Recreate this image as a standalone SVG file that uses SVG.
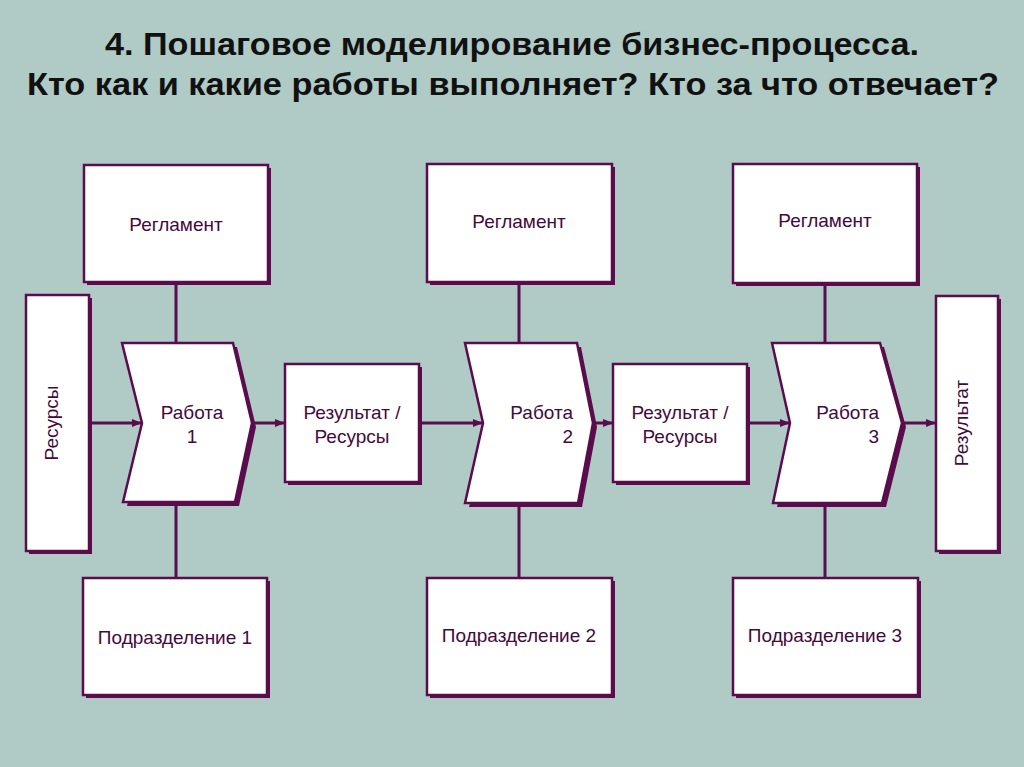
<svg xmlns="http://www.w3.org/2000/svg" width="1024" height="767" viewBox="0 0 1024 767">
<defs>
<style>
.box{fill:#ffffff;stroke:#5a0c4c;stroke-width:2.5}
.sh{fill:#5a0c4c}
.lbl{font-family:"Liberation Sans",Arial,sans-serif;font-size:19px;fill:#45093b}
.title{font-family:"Liberation Sans Narrow","Liberation Sans",Arial,sans-serif;font-size:31px;font-weight:bold;fill:#111111}
.ln{stroke:#5a0c4c;stroke-width:3;fill:none}
</style>
<marker id="ah" markerWidth="10" markerHeight="8" refX="10" refY="4" orient="auto" markerUnits="userSpaceOnUse">
<path d="M0,0 L10,4 L0,8 Z" fill="#5a0c4c"/>
</marker>
</defs>
<rect width="1024" height="767" fill="#b0cac6"/>
<g id="title">
<text class="title" x="512" y="55" text-anchor="middle" textLength="814" lengthAdjust="spacingAndGlyphs">4. Пошаговое моделирование бизнес-процесса.</text>
<text class="title" x="513" y="95" text-anchor="middle" textLength="972" lengthAdjust="spacingAndGlyphs">Кто как и какие работы выполняет? Кто за что отвечает?</text>
</g>
<g id="connectors">
<line class="ln" x1="176" y1="282" x2="176" y2="343"/>
<line class="ln" x1="176" y1="503" x2="176" y2="578"/>
<line class="ln" x1="519" y1="282" x2="519" y2="343"/>
<line class="ln" x1="519" y1="503" x2="519" y2="578"/>
<line class="ln" x1="825" y1="282" x2="825" y2="343"/>
<line class="ln" x1="825" y1="503" x2="825" y2="578"/>
<line class="ln" x1="90" y1="423" x2="142" y2="423" marker-end="url(#ah)"/>
<line class="ln" x1="253" y1="423" x2="285" y2="423" marker-end="url(#ah)"/>
<line class="ln" x1="421" y1="423" x2="483" y2="423" marker-end="url(#ah)"/>
<line class="ln" x1="594" y1="423" x2="613" y2="423" marker-end="url(#ah)"/>
<line class="ln" x1="748" y1="423" x2="790" y2="423" marker-end="url(#ah)"/>
<line class="ln" x1="903" y1="423" x2="936" y2="423" marker-end="url(#ah)"/>
</g>
<g id="reg1">
<rect class="sh" x="87" y="168" width="184" height="117"/>
<rect class="box" x="84" y="165" width="184" height="117"/>
<text class="lbl" x="176" y="231" text-anchor="middle">Регламент</text>
</g>
<g id="reg2">
<rect class="sh" x="430" y="167" width="185" height="118"/>
<rect class="box" x="427" y="164" width="185" height="118"/>
<text class="lbl" x="519" y="228" text-anchor="middle">Регламент</text>
</g>
<g id="reg3">
<rect class="sh" x="736" y="167" width="184" height="119"/>
<rect class="box" x="733" y="164" width="184" height="119"/>
<text class="lbl" x="825" y="227" text-anchor="middle">Регламент</text>
</g>
<g id="res-in">
<rect class="sh" x="29" y="298" width="63" height="256"/>
<rect class="box" x="26" y="295" width="63" height="256"/>
<text class="lbl" transform="translate(58,423) rotate(-90)" text-anchor="middle">Ресурсы</text>
</g>
<g id="work1">
<path class="sh" d="M126,347 L237,347 L256,427 L239,506 L127,506 L146,427 Z"/>
<path class="box" d="M122,343 L233,343 L252,423 L235,502 L123,502 L142,423 Z"/>
<text class="lbl" x="192" y="419" text-anchor="middle">Работа</text>
<text class="lbl" x="192" y="443" text-anchor="middle">1</text>
</g>
<g id="result1">
<rect class="sh" x="288" y="367" width="134" height="118"/>
<rect class="box" x="285" y="364" width="134" height="118"/>
<text class="lbl" x="352" y="419" text-anchor="middle">Результат /</text>
<text class="lbl" x="352" y="443" text-anchor="middle">Ресурсы</text>
</g>
<g id="work2">
<path class="sh" d="M469,347 L581,347 L597,427 L582,507 L469,507 L487,427 Z"/>
<path class="box" d="M465,343 L577,343 L593,423 L578,503 L465,503 L483,423 Z"/>
<text class="lbl" x="573" y="419" text-anchor="end">Работа</text>
<text class="lbl" x="573" y="443" text-anchor="end">2</text>
</g>
<g id="result2">
<rect class="sh" x="616" y="367" width="134" height="118"/>
<rect class="box" x="613" y="364" width="134" height="118"/>
<text class="lbl" x="680" y="419" text-anchor="middle">Результат /</text>
<text class="lbl" x="680" y="443" text-anchor="middle">Ресурсы</text>
</g>
<g id="work3">
<path class="sh" d="M776,347 L884,347 L906,427 L886,507 L777,507 L794,427 Z"/>
<path class="box" d="M772,343 L880,343 L902,423 L882,503 L773,503 L790,423 Z"/>
<text class="lbl" x="879" y="419" text-anchor="end">Работа</text>
<text class="lbl" x="879" y="443" text-anchor="end">3</text>
</g>
<g id="res-out">
<rect class="sh" x="939" y="299" width="62" height="255"/>
<rect class="box" x="936" y="296" width="62" height="255"/>
<text class="lbl" transform="translate(968,423) rotate(-90)" text-anchor="middle">Результат</text>
</g>
<g id="dep1">
<rect class="sh" x="86" y="581" width="184" height="117"/>
<rect class="box" x="83" y="578" width="184" height="117"/>
<text class="lbl" x="175" y="644" text-anchor="middle">Подразделение 1</text>
</g>
<g id="dep2">
<rect class="sh" x="430" y="581" width="185" height="117"/>
<rect class="box" x="427" y="578" width="185" height="117"/>
<text class="lbl" x="519" y="642" text-anchor="middle">Подразделение 2</text>
</g>
<g id="dep3">
<rect class="sh" x="736" y="581" width="185" height="117"/>
<rect class="box" x="733" y="578" width="185" height="117"/>
<text class="lbl" x="825" y="642" text-anchor="middle">Подразделение 3</text>
</g>
</svg>
